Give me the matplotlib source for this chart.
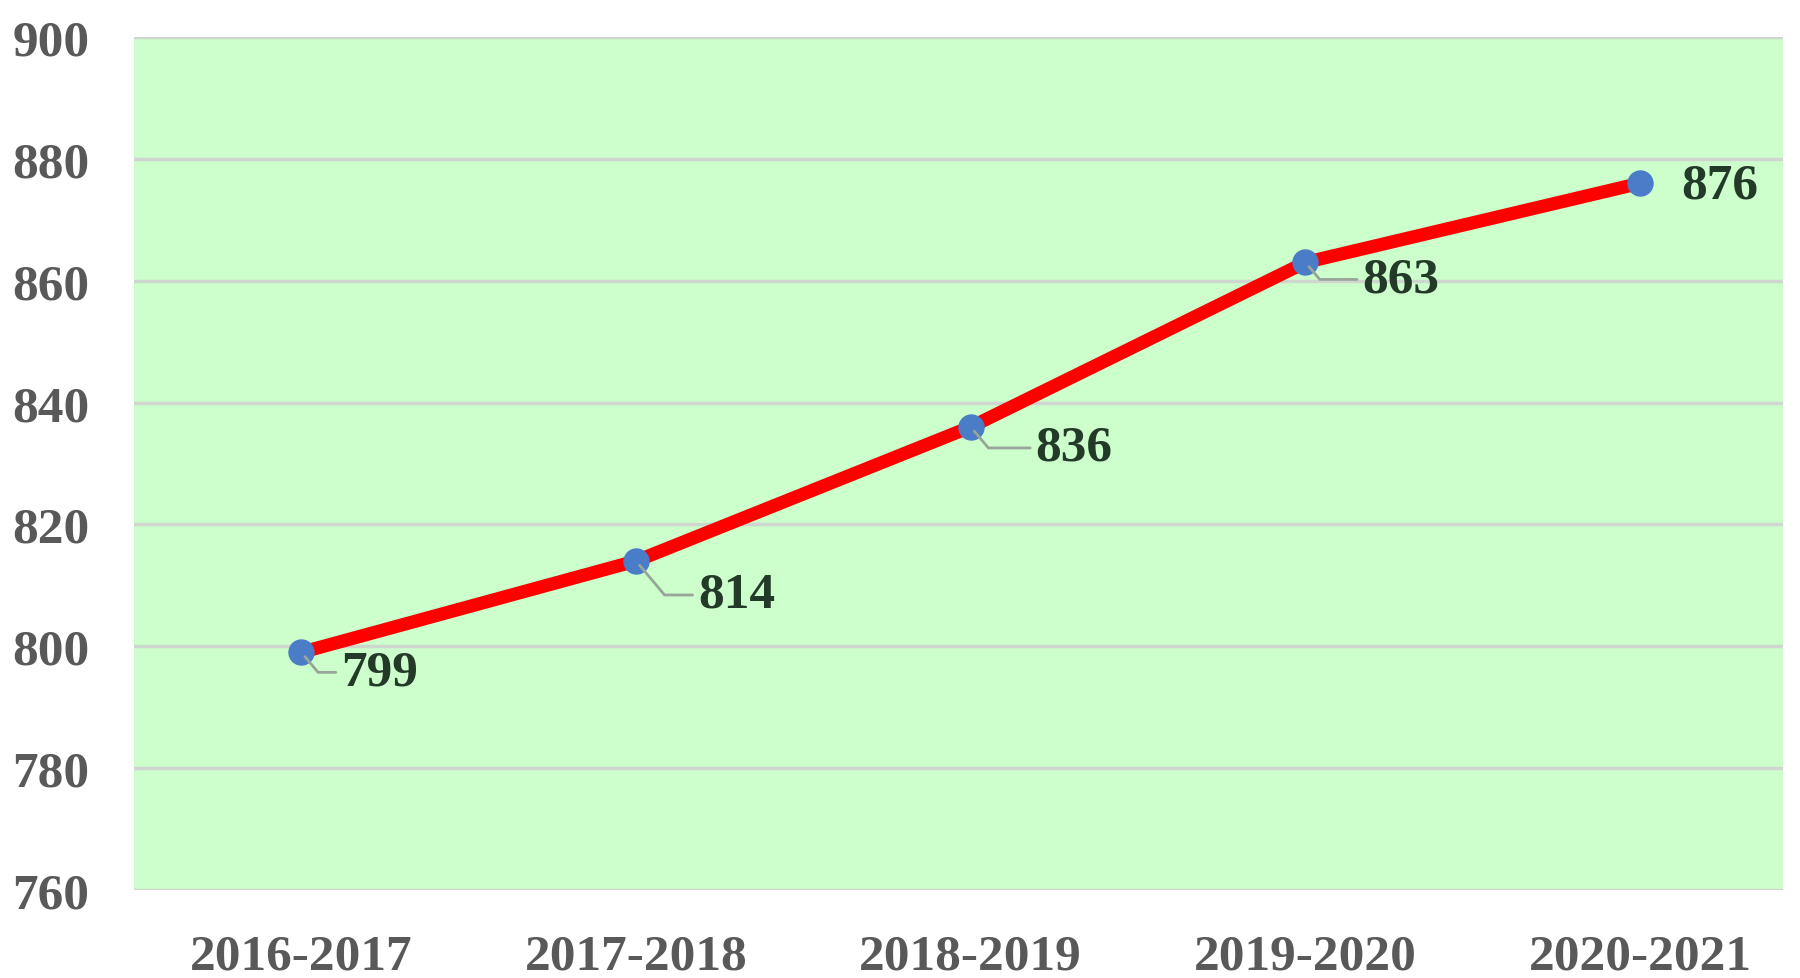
import matplotlib
matplotlib.use("Agg")
import matplotlib.pyplot as plt

categories = ["2016-2017", "2017-2018", "2018-2019", "2019-2020", "2020-2021"]
values = [799, 814, 836, 863, 876]
yticks = [760, 780, 800, 820, 840, 860, 880, 900]
# label offsets in pixels (dx, dy) relative to each point
label_offsets = [(40, -20), (62, -34), (65, -21), (57, -17), (41, -2)]

plt.rcParams['font.family'] = ['Liberation Serif', 'DejaVu Serif']

fig = plt.figure(figsize=(18, 9.79), dpi=100)
ax = fig.add_axes([134/1800, 1-891/979, (1783-134)/1800, (891-38)/979])
ax.set_facecolor('#CCFFCC')

x = list(range(len(categories)))
ax.plot(x, values, color='#FF0000', lw=9.5, solid_capstyle='round', zorder=3)
ax.plot(x, values, 'o', color='#4A7CC8', markersize=18, zorder=4)

for xi, v, (dx, dy) in zip(x, values, label_offsets):
    ax.annotate(str(v), xy=(xi, v), xytext=(dx, dy), textcoords='offset pixels',
                ha='left', va='center', fontsize=37, fontweight='bold', color='#233a28',
                zorder=5,
                arrowprops=dict(arrowstyle='-', color='#9aa59a', lw=2, shrinkA=2, shrinkB=4,
                                relpos=(0, 0.5),
                                connectionstyle='angle,angleA=0,angleB=-50') if dy < -5 else None)

ax.set_xlim(-0.5, (1783-300)/335)
ax.set_ylim(760, 900)
ax.set_yticks(yticks)
ax.set_xticks(x)
ax.set_xticklabels(categories)
ax.grid(axis='y', color='#cfd6cf', lw=2.5, zorder=1)
ax.set_axisbelow(True)
for s in ax.spines.values():
    s.set_visible(False)
ax.tick_params(axis='y', length=0, pad=32, labelsize=37, labelcolor='#595959')
ax.tick_params(axis='x', length=0, pad=31, labelsize=37, labelcolor='#595959')
for lab in ax.get_xticklabels() + ax.get_yticklabels():
    lab.set_fontweight('bold')

fig.savefig('out.png', dpi=100)
